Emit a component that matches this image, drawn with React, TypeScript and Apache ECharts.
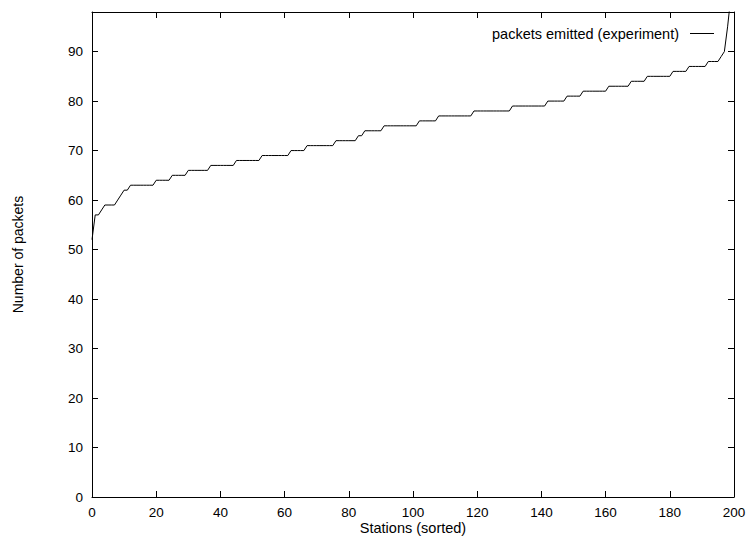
import React, { useEffect, useRef } from "react";
import * as echarts from "echarts";

const seriesName = "packets emitted (experiment)";
const xAxisName = "Stations (sorted)";
const yAxisName = "Number of packets";

// packets per station, sorted (station index = array index)
const packets: number[] = [
  52, 57, 57, 58, 59, 59, 59, 59, 60, 61,
  62, 62, 63, 63, 63, 63, 63, 63, 63, 63,
  64, 64, 64, 64, 64, 65, 65, 65, 65, 65,
  66, 66, 66, 66, 66, 66, 66, 67, 67, 67,
  67, 67, 67, 67, 67, 68, 68, 68, 68, 68,
  68, 68, 68, 69, 69, 69, 69, 69, 69, 69,
  69, 69, 70, 70, 70, 70, 70, 71, 71, 71,
  71, 71, 71, 71, 71, 71, 72, 72, 72, 72,
  72, 72, 72, 73, 73, 74, 74, 74, 74, 74,
  74, 75, 75, 75, 75, 75, 75, 75, 75, 75,
  75, 75, 76, 76, 76, 76, 76, 76, 77, 77,
  77, 77, 77, 77, 77, 77, 77, 77, 77, 78,
  78, 78, 78, 78, 78, 78, 78, 78, 78, 78,
  78, 79, 79, 79, 79, 79, 79, 79, 79, 79,
  79, 79, 80, 80, 80, 80, 80, 80, 81, 81,
  81, 81, 81, 82, 82, 82, 82, 82, 82, 82,
  82, 83, 83, 83, 83, 83, 83, 83, 84, 84,
  84, 84, 84, 85, 85, 85, 85, 85, 85, 85,
  85, 86, 86, 86, 86, 86, 87, 87, 87, 87,
  87, 87, 88, 88, 88, 88, 89, 90, 95, 101,
];

const X_MIN = 0;
const X_MAX = 200;
const X_STEP = 20;
const Y_MIN = 0;
const Y_MAX = 98;
const Y_STEP = 10;

const FONT = "'Liberation Sans', Arial, Helvetica, sans-serif";

export default function App() {
  const ref = useRef<HTMLDivElement>(null);

  useEffect(() => {
    document.body.style.margin = "0";
    if (!ref.current) return;
    const chart = echarts.init(ref.current, undefined, { renderer: "svg" });
    const data = packets.map((v, i) => [i, v]);
    const axisLine = { show: true, onZero: false, lineStyle: { color: "#000", width: 1 } };
    const tick = { show: true, inside: true, length: 6, lineStyle: { color: "#000", width: 1 } };
    chart.setOption({
      animation: false,
      backgroundColor: "#fff",
      textStyle: { fontFamily: FONT, color: "#000" },
      grid: { left: 92, right: 14, top: 12, bottom: 39, containLabel: false, outerBoundsMode: "none" },
      legend: {
        show: true,
        data: [seriesName],
        right: 29,
        top: 21,
        align: "right",
        icon: "rect",
        itemWidth: 24,
        itemHeight: 1,
        itemGap: 0,
        textStyle: { fontSize: 14.5, color: "#000", fontFamily: FONT, padding: [0, 6, 0, 0] },
      },
      xAxis: [
        {
          type: "value",
          min: X_MIN,
          max: X_MAX,
          interval: X_STEP,
          position: "bottom",
          name: xAxisName,
          nameLocation: "middle",
          nameGap: 24,
          nameMoveOverlap: false,
          nameTextStyle: { fontSize: 14.5, lineHeight: 14, color: "#000", fontFamily: FONT },
          axisLine,
          axisTick: tick,
          axisLabel: { fontSize: 13.5, lineHeight: 12, color: "#000", margin: 9, fontFamily: FONT },
          splitLine: { show: false },
        },
        {
          type: "value",
          min: X_MIN,
          max: X_MAX,
          interval: X_STEP,
          position: "top",
          axisLine,
          axisTick: tick,
          axisLabel: { show: false },
          splitLine: { show: false },
        },
      ],
      yAxis: [
        {
          type: "value",
          min: Y_MIN,
          max: Y_MAX,
          interval: Y_STEP,
          position: "left",
          name: yAxisName,
          nameLocation: "middle",
          nameRotate: 90,
          nameGap: 67,
          nameMoveOverlap: false,
          nameTextStyle: { fontSize: 14, color: "#000", fontFamily: FONT },
          axisLine,
          axisTick: tick,
          axisLabel: { fontSize: 13.5, color: "#000", margin: 9, showMaxLabel: false, fontFamily: FONT },
          splitLine: { show: false },
        },
        {
          type: "value",
          min: Y_MIN,
          max: Y_MAX,
          interval: Y_STEP,
          position: "right",
          axisLine,
          axisTick: tick,
          axisLabel: { show: false },
          splitLine: { show: false },
        },
      ],
      series: [
        {
          name: seriesName,
          type: "line",
          xAxisIndex: 0,
          yAxisIndex: 0,
          data,
          showSymbol: false,
          symbol: "none",
          clip: true,
          lineStyle: { color: "#000", width: 1 },
          itemStyle: { color: "#000" },
        },
      ],
    });
    return () => chart.dispose();
  }, []);

  return (
    <div
      ref={ref}
      style={{ position: "fixed", left: 0, top: 0, width: 748, height: 536 }}
    />
  );
}
